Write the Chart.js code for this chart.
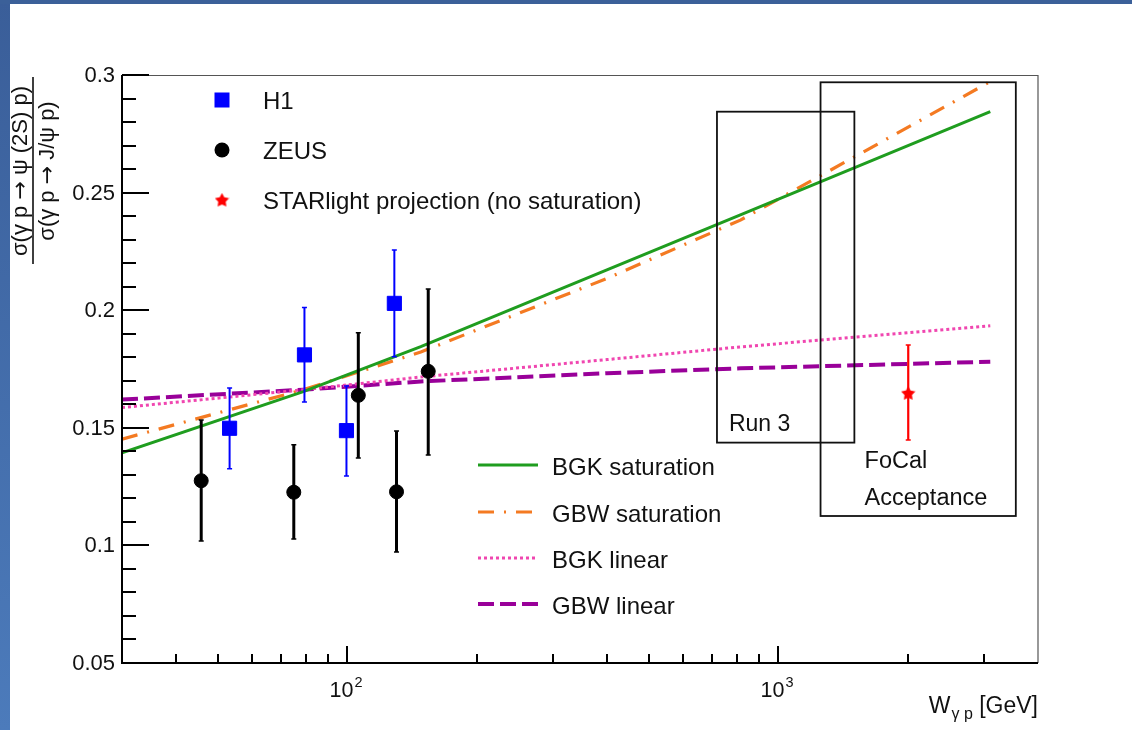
<!DOCTYPE html>
<html><head><meta charset="utf-8">
<script src="https://cdn.jsdelivr.net/npm/chart.js@4.4.1/dist/chart.umd.min.js"></script>
<style>html,body{margin:0;padding:0;background:#fff;overflow:hidden}canvas{display:block}</style>
</head><body>
<canvas id="c" width="1132" height="730" style="width:1132px;height:730px"></canvas>
<script>
// ---------- data ----------
const h1W   = [53.3, 79.5, 99.5, 128.5];
const h1R   = [0.1498, 0.1810, 0.1488, 0.2029];
const h1Lo  = [0.1326, 0.1610, 0.1295, 0.1802];
const h1Hi  = [0.1669, 0.2011, 0.1678, 0.2256];

const zeusW  = [45.8, 75.1, 106, 130, 154];
const zeusR  = [0.1275, 0.1226, 0.1638, 0.1228, 0.1740];
const zeusLo = [0.1019, 0.1027, 0.1372, 0.0972, 0.1384];
const zeusHi = [0.1533, 0.1428, 0.1904, 0.1486, 0.2090];

const starW  = [2000];
const starR  = [0.1647];
const starLo = [0.1448];
const starHi = [0.1852];

const modelW = [30, 79, 148, 400, 816, 3100];
const bgkSat = [0.1394, 0.1654, 0.1845, 0.2171, 0.2405, 0.2844];
const gbwSat = [0.1452, 0.1662, 0.1822, 0.2135, 0.2383, 0.2972];
const bgkLin = [0.1586, 0.1662, 0.1716, 0.1790, 0.1844, 0.1934];
const gbwLin = [0.1620, 0.1662, 0.1697, 0.1732, 0.1753, 0.1781];

const yTicks      = [0.05, 0.1, 0.15, 0.2, 0.25, 0.3];
const yTickLabels = ['0.05', '0.1', '0.15', '0.2', '0.25', '0.3'];
const xMajorTicks = [100, 1000];
const xTickLabels = [['10', '2'], ['10', '3']];
const xMinorTicks = [40, 50, 60, 70, 80, 90, 200, 300, 400, 500, 600, 700, 800, 900, 2000, 3000];

const run3Box  = { wMin: 720,  wMax: 1500, rMin: 0.1437, rMax: 0.2844 };
const focalBox = { wMin: 1252, wMax: 3553, rMin: 0.1125, rMax: 0.2969 };

const markerLegend = ['H1', 'ZEUS', 'STARlight projection (no saturation)'];
const modelLegend  = ['BGK saturation', 'GBW saturation', 'BGK linear', 'GBW linear'];

// ---------- styling ----------
const FONT = '"Liberation Sans", Arial, Helvetica, sans-serif';
const SYM = '"DejaVu Sans", sans-serif';
const TXT = '#111';
const C_BLUE = '#0000ff', C_RED = '#ff0000';
const C_GREEN = '#1f9d1f', C_ORANGE = '#f47a22', C_PINK = '#f046b0', C_PURPLE = '#990099';
const DASH_ORANGE = [16, 10, 2, 10], DASH_PINK = [3, 3], DASH_PURPLE = [16, 6];

function makeStar(size, color) {
  const c = document.createElement('canvas');
  c.width = c.height = size;
  const x = c.getContext('2d');
  x.fillStyle = color; x.beginPath();
  const cx = size / 2, cy = size / 2 + 0.5, R = size / 2, r = R * 0.52;
  for (let i = 0; i < 10; i++) {
    const a = -Math.PI / 2 + i * Math.PI / 5;
    const rr = i % 2 ? r : R;
    x.lineTo(cx + rr * Math.cos(a), cy + rr * Math.sin(a));
  }
  x.closePath(); x.fill();
  return c;
}
const starImg = makeStar(15, C_RED);

const pts = (xs, ys) => xs.map((x, i) => ({ x, y: ys[i] }));

const errSets = {
  H1:   { w: h1W,   lo: h1Lo,   hi: h1Hi,   color: C_BLUE, width: 2 },
  ZEUS: { w: zeusW, lo: zeusLo, hi: zeusHi, color: '#000', width: 3 },
  STAR: { w: starW, lo: starLo, hi: starHi, color: C_RED,  width: 2.2 }
};

function richText(ctx, parts, cx, y) {
  let total = 0;
  parts.forEach(p => { ctx.font = p.f; p.w = ctx.measureText(p.t).width; total += p.w; });
  let x = cx - total / 2;
  ctx.textAlign = 'left';
  parts.forEach(p => { ctx.font = p.f; ctx.fillText(p.t, x, y); x += p.w; });
}

const rootPlugin = {
  id: 'rootStyle',
  beforeDraw(chart) {
    const ctx = chart.ctx;
    ctx.save();
    ctx.fillStyle = '#fff';
    ctx.fillRect(0, 0, chart.width, chart.height);
    ctx.restore();
  },
  beforeDatasetDraw(chart, args) {
    const ds = chart.data.datasets[args.index];
    const e = errSets[ds.errKey];
    if (!e) return;
    const ctx = chart.ctx, xs = chart.scales.x, ys = chart.scales.y;
    ctx.save();
    ctx.strokeStyle = e.color; ctx.lineCap = 'butt';
    e.w.forEach((w, i) => {
      const px = xs.getPixelForValue(w);
      const y1 = ys.getPixelForValue(e.lo[i]), y2 = ys.getPixelForValue(e.hi[i]);
      ctx.lineWidth = e.width;
      ctx.beginPath(); ctx.moveTo(px, y1); ctx.lineTo(px, y2); ctx.stroke();
      ctx.lineWidth = 1.5;
      ctx.beginPath();
      ctx.moveTo(px - 2.5, y1); ctx.lineTo(px + 2.5, y1);
      ctx.moveTo(px - 2.5, y2); ctx.lineTo(px + 2.5, y2);
      ctx.stroke();
    });
    ctx.restore();
  },
  afterDatasetsDraw(chart) {
    const ctx = chart.ctx, xs = chart.scales.x, ys = chart.scales.y;
    const a = chart.chartArea;
    ctx.save();

    // boxes
    ctx.strokeStyle = '#111'; ctx.lineWidth = 1.8;
    [run3Box, focalBox].forEach(b => {
      const x1 = xs.getPixelForValue(b.wMin), x2 = xs.getPixelForValue(b.wMax);
      const y1 = ys.getPixelForValue(b.rMax), y2 = ys.getPixelForValue(b.rMin);
      ctx.strokeRect(x1, y1, x2 - x1, y2 - y1);
    });
    ctx.fillStyle = TXT; ctx.font = '23px ' + FONT; ctx.textBaseline = 'middle'; ctx.textAlign = 'left';
    ctx.fillText('Run 3', xs.getPixelForValue(run3Box.wMin) + 12, 425);
    ctx.font = '23.5px ' + FONT;
    ctx.fillText('FoCal', xs.getPixelForValue(focalBox.wMin) + 44, 462);
    ctx.fillText('Acceptance', xs.getPixelForValue(focalBox.wMin) + 44, 499);

    // frame
    ctx.strokeStyle = '#555'; ctx.lineWidth = 1.2;
    ctx.beginPath();
    ctx.moveTo(a.left, a.top + 0.5); ctx.lineTo(a.right, a.top + 0.5); ctx.lineTo(a.right, a.bottom);
    ctx.stroke();
    ctx.strokeStyle = '#000'; ctx.lineWidth = 2;
    ctx.beginPath();
    ctx.moveTo(a.left, a.top); ctx.lineTo(a.left, a.bottom); ctx.lineTo(a.right, a.bottom);
    ctx.stroke();

    // y ticks (inward)
    ctx.beginPath();
    for (let k = 0; k <= 25; k++) {
      const v = 0.05 + k * 0.01;
      const py = Math.round(ys.getPixelForValue(v));
      const major = k % 5 === 0;
      ctx.moveTo(a.left, py); ctx.lineTo(a.left + (major ? 27 : 14), py);
    }
    // x ticks (inward)
    xMajorTicks.forEach(w => { const px = Math.round(xs.getPixelForValue(w)); ctx.moveTo(px, a.bottom); ctx.lineTo(px, a.bottom - 17); });
    xMinorTicks.forEach(w => { const px = Math.round(xs.getPixelForValue(w)); ctx.moveTo(px, a.bottom); ctx.lineTo(px, a.bottom - 9); });
    ctx.stroke();

    // y tick labels
    ctx.fillStyle = TXT; ctx.font = '22px ' + FONT; ctx.textAlign = 'right'; ctx.textBaseline = 'middle';
    yTicks.forEach((v, i) => ctx.fillText(yTickLabels[i], a.left - 7, ys.getPixelForValue(v) + 1));

    // x tick labels 10^n
    ctx.textBaseline = 'alphabetic';
    xMajorTicks.forEach((w, i) => {
      const px = xs.getPixelForValue(w);
      ctx.font = '21.5px ' + FONT; ctx.textAlign = 'right';
      ctx.fillText(xTickLabels[i][0], px + 6, 697);
      ctx.font = '14.5px ' + FONT; ctx.textAlign = 'left';
      ctx.fillText(xTickLabels[i][1], px + 7, 687);
    });

    // x title: W_{γ p} [GeV]
    {
      const big = '23px ' + FONT, small = '16px ' + FONT;
      ctx.font = big; const wW = ctx.measureText('W').width; const wG = ctx.measureText(' [GeV]').width;
      ctx.font = small; const wS = ctx.measureText('γ p').width;
      let x0 = a.right - (wW + wS + 1 + wG);
      ctx.textAlign = 'left';
      ctx.font = big; ctx.fillText('W', x0, 713);
      ctx.font = small; ctx.fillText('γ p', x0 + wW + 1, 719);
      ctx.font = big; ctx.fillText(' [GeV]', x0 + wW + wS + 1, 713);
    }

    // y title (fraction)
    ctx.save();
    ctx.translate(33, 171); ctx.rotate(-Math.PI / 2);
    ctx.textBaseline = 'alphabetic';
    const F = '22px ' + FONT, A = '22px ' + SYM;
    richText(ctx, [{ t: 'σ(γ p ', f: F }, { t: '→', f: A }, { t: ' ψ (2S) p)', f: F }], 0, -6);
    richText(ctx, [{ t: 'σ(γ p ', f: F }, { t: '→', f: A }, { t: ' J/ψ p)', f: F }], 0, 21);
    ctx.fillRect(-93, -0.8, 187, 1.6);
    ctx.restore();

    // legend 1 (markers)
    ctx.font = '24px ' + FONT; ctx.textAlign = 'left'; ctx.textBaseline = 'middle';
    const lx = 222, ly = [100, 150, 200];
    ctx.fillStyle = C_BLUE; ctx.fillRect(lx - 7.5, ly[0] - 7.5, 15, 15);
    ctx.fillStyle = '#000'; ctx.beginPath(); ctx.arc(lx, ly[1], 7.5, 0, Math.PI * 2); ctx.fill();
    ctx.drawImage(starImg, lx - 7.5, ly[2] - 7.5, 15, 15);
    ctx.fillStyle = TXT;
    markerLegend.forEach((t, i) => ctx.fillText(t, 263, ly[i] + 2));

    // legend 2 (lines)
    const styles = [
      { c: C_GREEN, d: [], w: 3 },
      { c: C_ORANGE, d: DASH_ORANGE, w: 3.2 },
      { c: C_PINK, d: DASH_PINK, w: 3 },
      { c: C_PURPLE, d: DASH_PURPLE, w: 4 }
    ];
    const my = [465, 512, 558, 604];
    styles.forEach((s, i) => {
      ctx.strokeStyle = s.c; ctx.lineWidth = s.w; ctx.setLineDash(s.d);
      ctx.beginPath(); ctx.moveTo(478, my[i]); ctx.lineTo(538, my[i]); ctx.stroke();
    });
    ctx.setLineDash([]);
    ctx.fillStyle = TXT;
    modelLegend.forEach((t, i) => ctx.fillText(t, 552, my[i] + 3));

    ctx.restore();
  },
  afterDraw(chart) {
    const ctx = chart.ctx;
    ctx.save();
    const g = ctx.createLinearGradient(0, 0, 0, chart.height);
    g.addColorStop(0, '#3a5e99'); g.addColorStop(1, '#4c7bbb');
    ctx.fillStyle = g; ctx.fillRect(0, 0, 10, chart.height);
    ctx.fillStyle = '#3b6099'; ctx.fillRect(0, 0, chart.width, 4);
    ctx.restore();
  }
};

const lineDs = (label, ys, color, dash, width) => ({
  label, data: pts(modelW, ys), showLine: true, borderColor: color, backgroundColor: color,
  borderWidth: width, borderDash: dash, pointRadius: 0, pointHoverRadius: 0, tension: 0, order: 2
});

new Chart(document.getElementById('c'), {
  type: 'scatter',
  data: {
    datasets: [
      { label: 'H1', errKey: 'H1', data: pts(h1W, h1R), pointStyle: 'rect', pointRadius: 10, borderWidth: 1,
        backgroundColor: C_BLUE, borderColor: C_BLUE, order: 0 },
      { label: 'ZEUS', errKey: 'ZEUS', data: pts(zeusW, zeusR), pointStyle: 'circle', pointRadius: 7, borderWidth: 1,
        backgroundColor: '#000', borderColor: '#000', order: 0 },
      { label: 'STARlight', errKey: 'STAR', data: pts(starW, starR), pointStyle: starImg, pointRadius: 7,
        backgroundColor: C_RED, borderColor: C_RED, order: 0 },
      lineDs('BGK saturation', bgkSat, C_GREEN, [], 3),
      lineDs('GBW saturation', gbwSat, C_ORANGE, DASH_ORANGE, 3.2),
      lineDs('BGK linear', bgkLin, C_PINK, DASH_PINK, 3),
      lineDs('GBW linear', gbwLin, C_PURPLE, DASH_PURPLE, 4)
    ]
  },
  options: {
    responsive: false, animation: false, devicePixelRatio: 1,
    layout: { padding: { left: 122, top: 75, right: 94, bottom: 67 } },
    plugins: { legend: { display: false }, tooltip: { enabled: false } },
    events: [],
    scales: {
      x: { type: 'logarithmic', min: 30, max: 4000, display: false },
      y: { type: 'linear', min: 0.05, max: 0.3, display: false }
    }
  },
  plugins: [rootPlugin]
});
</script>
</body></html>
